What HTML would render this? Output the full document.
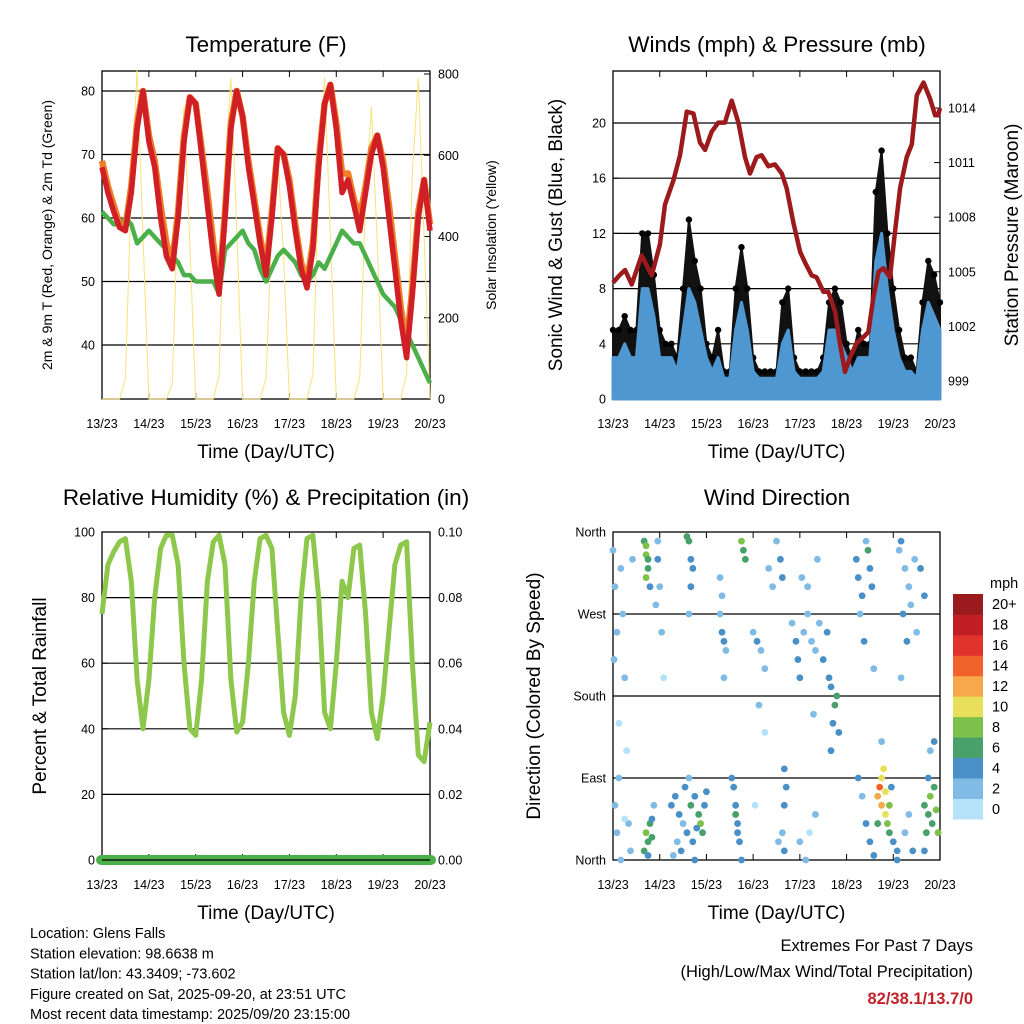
<!DOCTYPE html>
<html><head><meta charset="utf-8"><style>
html,body{margin:0;padding:0;background:#fff;}
svg{display:block;font-family:"Liberation Sans",sans-serif;}
</style></head><body>
<svg id="fig" width="1024" height="1024" viewBox="0 0 1024 1024" xmlns="http://www.w3.org/2000/svg">
<g id="g"></g>
</svg>
<script>
const dayLabels=["13/23","14/23","15/23","16/23","17/23","18/23","19/23","20/23"];
const tempRed=[68,64,61,58.5,58,64,74,80,72,68,60,54,52,60,72,79,78,70,62,54,48,60,74,80,76,68,62,56,51,60,71,70,65,58,52,49,55,68,78,81,74,64,66,62,58,64,70,73,68,60,52,44,38,48,60,66,58];
const tempOrange=[69,65,62,59,58.5,65,75,80,73,69,62,56,53,61,73,79,78,71,64,56,49,61,75,80,76,69,63,57,52,61,71,70,66,59,53,50,56,69,78,81,75,67,67,63,60,65,71,73,69,62,54,46,40,49,61,66,59];
const dewGreen=[61,60,59,59,60,59,56,57,58,57,56,55,54,53,51,51,50,50,50,50,48,55,56,57,58,56,55,52,50,52,54,55,54,53,51,50,51,53,52,54,56,58,57,56,56,54,52,50,48,47,46,44,42,40,38,36,34];
const solar=[0,0,0,0,50,520,810,400,0,0,0,0,40,480,720,380,0,0,0,0,60,560,790,420,0,0,0,0,50,430,600,350,0,0,0,0,60,540,790,400,0,0,0,0,50,500,720,380,0,0,0,0,60,560,790,400,0];
const windSpd=[3,3,4,3,3,8,8,6,3,3,3,2,5,8,7,5,3,2,3,1.5,1.5,5,7,5,2,1.5,1.5,1.5,1.5,4,5,2,1.5,1.5,1.5,1.5,2,5,5,4,3,2,3,3,3,10,12,8,5,3,2,2,1.5,5,7,6,5];
const windGust=[5,5,6,5,5,12,12,9,5,4,4,3,8,13,10,8,4,3,5,2,2,8,11,8,3,2,2,2,2,7,8,3,2,2,2,2,3,7,8,7,4,3,5,4,4,15,18,12,8,5,3,3,2,7,10,9,7];
const presHours=[0,3.3,6.2,9.6,14.7,19.9,24.1,26.7,31,34.4,37.9,41.3,44.7,47.3,50.7,54.1,57.5,61,64.4,67.8,70.4,73.8,76.4,79.8,83.2,86.7,89.2,92.7,96.1,98.7,102.1,104.6,108.1,110.6,114.1,116.7,119.2,121.8,125.2,128.6,131.2,133.8,136.4,138.9,142.3,144.9,147.5,150.9,153.5,156.1,159.5,162.9,165.5,167,168];
const pressure=[1004.4,1004.8,1005.1,1004.3,1005.9,1004.8,1006.5,1008.7,1010,1011.4,1013.8,1013.7,1012.1,1011.7,1012.7,1013.2,1013.2,1014.4,1013.2,1011.3,1010.4,1011.3,1011.4,1010.8,1010.9,1010.4,1009.6,1007.7,1006.1,1005.5,1004.8,1004.7,1003.9,1003.9,1002.8,1001,999.5,1000.3,1001.1,1001.4,1001.7,1003.6,1005,1005.2,1004.7,1007.2,1009.6,1011.3,1012,1014.7,1015.4,1014.5,1013.6,1013.6,1014];
const rh=[75,90,94,97,98,85,55,40,55,80,95,99,99,90,60,40,38,55,85,97,99,90,55,39,42,60,85,98,99,95,70,45,38,50,80,98,99,80,45,40,60,85,80,95,96,75,45,37,50,70,90,96,97,60,32,30,42];
const precip=[0,0];
const dirHours=[0,1,2,0.5,1,2,3,4,5,6,3,7,8,9,10,6,4,16,17,17,18,18,17,19,17,18,19,20,16,18,20,21,23,24,22,25,23,26,30,32,34,36,38,40,42,44,45,46,33,35,37,39,41,43,47,48,31,42,38,39,40,41,40,39,55,56,57,58,56,55,57,66,67,68,62,63,64,65,66,63,64,61,72,74,76,78,80,82,84,86,87,88,89,88,87,88,75,78,85,73,92,94,95,96,98,100,102,104,106,108,110,111,112,114,115,113,116,112,100,97,105,103,96,99,101,104,125,126,128,130,132,133,131,127,129,134,126,128,130,132,134,136,137,138,138,139,140,140,141,142,143,142,136,144,146,146,138,148,147,150,152,149,151,148,153,155,156,150,152,154,160,162,163,164,165,166,167,161,162,163,160,165,158,160];
const dirDeg=[340,300,250,220,60,30,90,320,270,200,150,120,40,10,330,45,0,350,345,335,330,320,310,300,30,20,40,25,10,5,45,60,330,300,280,250,350,200,60,70,50,40,30,60,70,50,40,30,20,10,80,90,20,35,60,75,5,0,355,350,330,320,300,270,270,250,240,230,290,310,200,350,340,330,80,60,40,20,0,50,30,90,250,240,230,210,320,300,350,330,310,100,80,60,30,10,170,140,20,60,260,240,220,200,250,270,240,230,260,220,250,200,190,170,180,150,140,120,300,310,330,160,20,0,30,50,330,310,290,350,320,300,340,270,240,210,90,70,40,20,5,70,80,60,90,100,75,50,40,60,80,30,40,20,10,0,130,350,340,320,300,270,240,200,280,330,250,30,50,10,60,50,70,40,80,55,30,30,90,120,10,130,320,290];
const dirSpd=[1,1,2,1,1,1,2,1,2,1,0,0,1,1,2,0,1,6,7,8,6,5,7,4,7,6,6,5,6,4,3,2,3,2,2,1,2,0,3,4,3,2,4,5,4,6,7,5,2,3,4,2,3,4,4,3,2,4,6,5,4,4,4,2,1,3,3,2,1,1,1,7,6,5,4,3,4,4,4,6,3,3,2,3,2,1,1,1,2,4,3,4,4,3,2,4,1,0,1,0,2,4,4,3,2,1,1,2,2,3,4,4,3,6,5,4,3,4,1,2,2,1,1,1,0,1,4,4,3,2,4,3,5,2,3,2,3,2,4,3,4,12,14,11,10,10,10,9,8,8,4,6,6,3,3,4,1,4,2,2,2,3,4,2,1,1,2,2,1,3,6,6,7,6,6,8,7,5,3,2,3,3,4,4];
const cbLabels=["0","2","4","6","8","10","12","14","16","18","20+"];
const cbColors=["#b4e2f8","#80bbe6","#4a90c8","#48a06a","#7cc14a","#e8e05a","#f6a84a","#f1632a","#e0332b","#c01f26","#9a1a1e"];

const NS="http://www.w3.org/2000/svg";
const root=document.getElementById('g');
function el(tag,attrs,parent,text){const e=document.createElementNS(NS,tag);for(const k in attrs)e.setAttribute(k,attrs[k]);if(text!==undefined)e.textContent=text;(parent||root).appendChild(e);return e;}
function lin(d0,d1,r0,r1){return v=>r0+(v-d0)/(d1-d0)*(r1-r0);}
function pathOf(xs,ys){return xs.map((x,i)=>(i?"L":"M")+x.toFixed(1)+","+ys[i].toFixed(1)).join("");}

function frame(x0,y0,x1,y1,name){
  const g=el('g',{},root);
  
  const r=el('rect',{x:x0,y:y0,width:x1-x0,height:y1-y0,fill:'none',stroke:'#000','stroke-width':1.3},g);
  
  const X=lin(0,168,x0,x1);
  dayLabels.forEach((lab,i)=>{
    const x=X(i*24);
    el('line',{x1:x,y1:y1,x2:x,y2:y1-6,stroke:'#000','stroke-width':1},g);
    el('line',{x1:x,y1:y0,x2:x,y2:y0+6,stroke:'#000','stroke-width':1},g);
    const t=el('text',{x:x,y:y1+29,'font-size':12.5,'text-anchor':'middle'},g,lab);
    
  });
  const t=el('text',{x:(x0+x1)/2,y:y1+59,'font-size':19,'text-anchor':'middle'},g,'Time (Day/UTC)');
  
  return X;
}
function title(x,y,txt){const t=el('text',{x:x,y:y,'font-size':22.5,'text-anchor':'middle'},root,txt);}
function grid(x0,x1,y){const l=el('line',{x1:x0,y1:y,x2:x1,y2:y,stroke:'#000','stroke-width':1.2});}
function ytick(x,y,lab,anchor,dir,size){
  el('line',{x1:x,y1:y,x2:x+dir*6,y2:y,stroke:'#000','stroke-width':1});
  const t=el('text',{x:anchor==='end'?x-7:x+8,y:y+4.5,'font-size':size||12.5,'text-anchor':anchor},root,lab);
  
}
function ylabel(x,y,txt,size){const t=el('text',{x:x,y:y,'font-size':size,'text-anchor':'middle',transform:`rotate(-90 ${x} ${y})`},root,txt);}

// ---------- Panel 1: Temperature ----------
(function(){
  const x0=102,y0=71,x1=430,y1=399;
  title(266,52,'Temperature (F)');
  const Y=lin(40,80,345,91), YS=lin(0,800,399,74);
  [40,50,60,70,80].forEach(v=>{grid(x0,x1,Y(v));ytick(x0,Y(v),String(v),'end',1);});
  [0,200,400,600,800].forEach(v=>ytick(x1,YS(v),String(v),'start',-1));
  ylabel(52,235,'2m & 9m T (Red, Orange) & 2m Td (Green)',14);
  ylabel(496,235,'Solar Insolation (Yellow)',14);
  const X=frame(x0,y0,x1,y1,'temperature');
  const xs=solar.map((v,i)=>X(i*3));
  const s=el('path',{d:pathOf(xs,solar.map(YS)),fill:'none',stroke:'#f9e27a','stroke-width':1,'stroke-linejoin':'round'});
  
  const g=el('path',{d:pathOf(xs,dewGreen.map(Y)),fill:'none',stroke:'#4cb04a','stroke-width':4.5,'stroke-linejoin':'round'});
  
  const o=el('path',{d:pathOf(xs,tempOrange.map(Y)),fill:'none',stroke:'#f07f2a','stroke-width':6.5,'stroke-linejoin':'round'});
  
  const r=el('path',{d:pathOf(xs,tempRed.map(Y)),fill:'none',stroke:'#d02026','stroke-width':5.5,'stroke-linejoin':'round'});
  
})();

// ---------- Panel 2: Winds & Pressure ----------
(function(){
  const x0=613,y0=71,x1=940,y1=399;
  title(777,52,'Winds (mph) & Pressure (mb)');
  const Y=lin(0,20,399,123), YP=lin(999,1014,381,108);
  [4,8,12,16,20].forEach(v=>grid(x0,x1,Y(v)));
  [0,4,8,12,16,20].forEach(v=>ytick(x0,Y(v),String(v),'end',1));
  [999,1002,1005,1008,1011,1014].forEach(v=>ytick(x1,YP(v),String(v),'start',-1));
  ylabel(562,235,'Sonic Wind & Gust (Blue, Black)',19);
  ylabel(1018,235,'Station Pressure (Maroon)',19);
  const X=frame(x0,y0,x1,y1,'winds');
  const xs=windGust.map((v,i)=>X(i*3));
  const gy=windGust.map(Y), wy=windSpd.map(Y);
  const band=el('path',{d:pathOf(xs,gy)+"L"+xs.slice().reverse().map((x,i)=>x.toFixed(1)+","+wy[wy.length-1-i].toFixed(1)).join("L")+"Z",fill:'#111',stroke:'#111','stroke-width':2,'stroke-linejoin':'round'});
  
  windGust.forEach((v,i)=>{const c=el('circle',{cx:xs[i],cy:Y(v),r:3.2,fill:'#000'});
    
    });
  const area=el('path',{d:pathOf(xs,wy)+`L${xs[xs.length-1]},${Y(0)}L${xs[0]},${Y(0)}Z`,fill:'#4f97d1',stroke:'#4f97d1','stroke-width':3,'stroke-linejoin':'round'});
  
  const p=el('path',{d:pathOf(presHours.map(X),pressure.map(YP)),fill:'none',stroke:'#9c1a1c','stroke-width':4.5,'stroke-linejoin':'round'});
  
})();

// ---------- Panel 3: RH & Precip ----------
(function(){
  const x0=102,y0=532,x1=430,y1=860;
  title(266,505,'Relative Humidity (%) & Precipitation (in)');
  const Y=lin(0,100,860,532), YR=lin(0,0.1,860,532);
  [20,40,60,80].forEach(v=>grid(x0,x1,Y(v)));
  [0,20,40,60,80,100].forEach(v=>ytick(x0,Y(v),String(v),'end',1));
  [0,0.02,0.04,0.06,0.08,0.1].forEach(v=>ytick(x1,YR(v),v.toFixed(2),'start',-1));
  ylabel(46,696,'Percent & Total Rainfall',19);
  const X=frame(x0,y0,x1,y1,'humidity');
  const r=el('path',{d:pathOf(rh.map((v,i)=>X(i*3)),rh.map(Y)),fill:'none',stroke:'#8dc74c','stroke-width':5,'stroke-linejoin':'round'});
  
  const pr=el('line',{x1:X(0)-1,y1:YR(precip[0]),x2:X(168)+1,y2:YR(precip[1]),stroke:'#4cb04a','stroke-width':10,'stroke-linecap':'round'});
  
  el('line',{x1:x0,y1:y1,x2:x1,y2:y1,stroke:'#000','stroke-width':1.2});
})();

// ---------- Panel 4: Wind direction ----------
(function(){
  const x0=613,y0=532,x1=940,y1=860;
  title(777,505,'Wind Direction');
  const Y=lin(0,360,860,532);
  [90,180,270].forEach(v=>grid(x0,x1,Y(v)));
  [[0,'North'],[90,'East'],[180,'South'],[270,'West'],[360,'North']].forEach(a=>ytick(x0,Y(a[0]),a[1],'end',1));
  ylabel(540,696,'Direction (Colored By Speed)',19);
  const X=frame(x0,y0,x1,y1,'wind-direction');
  dirHours.forEach((h,i)=>{
    const idx=Math.min(10,Math.round(dirSpd[i]/2));
    const c=el('circle',{cx:X(h),cy:Y(dirDeg[i]),r:3.4,fill:cbColors[idx]});
    
    
  });
  const cb=el('g',{});
  
  const bh=(819-594)/11;
  cbColors.forEach((c,i)=>{
    const yy=819-(i+1)*bh;
    el('rect',{x:953,y:yy,width:30,height:bh+0.4,fill:c},cb);
    const t=el('text',{x:992,y:yy+bh/2+5,'font-size':14.5},cb,cbLabels[i]);
    
  });
  const u=el('text',{x:990,y:588,'font-size':14.5},cb,'mph');
  
})();

// ---------- Footer text ----------
["Location: Glens Falls","Station elevation: 98.6638 m","Station lat/lon: 43.3409; -73.602","Figure created on Sat, 2025-09-20, at 23:51 UTC","Most recent data timestamp: 2025/09/20 23:15:00"].forEach((s,i)=>{
  const t=el('text',{x:30,y:938+i*20.3,'font-size':14.5},root,s);
  
});
(function(){
  const a=el('text',{x:973,y:951,'font-size':16.5,'text-anchor':'end'},root,'Extremes For Past 7 Days');
  
  const b=el('text',{x:973,y:977,'font-size':16.5,'text-anchor':'end'},root,'(High/Low/Max Wind/Total Precipitation)');
  
  const c=el('text',{x:973,y:1004,'font-size':16.5,'text-anchor':'end','font-weight':'bold',fill:'#c0222a'},root,'82/38.1/13.7/0');
  
})();
</script>
</body></html>
